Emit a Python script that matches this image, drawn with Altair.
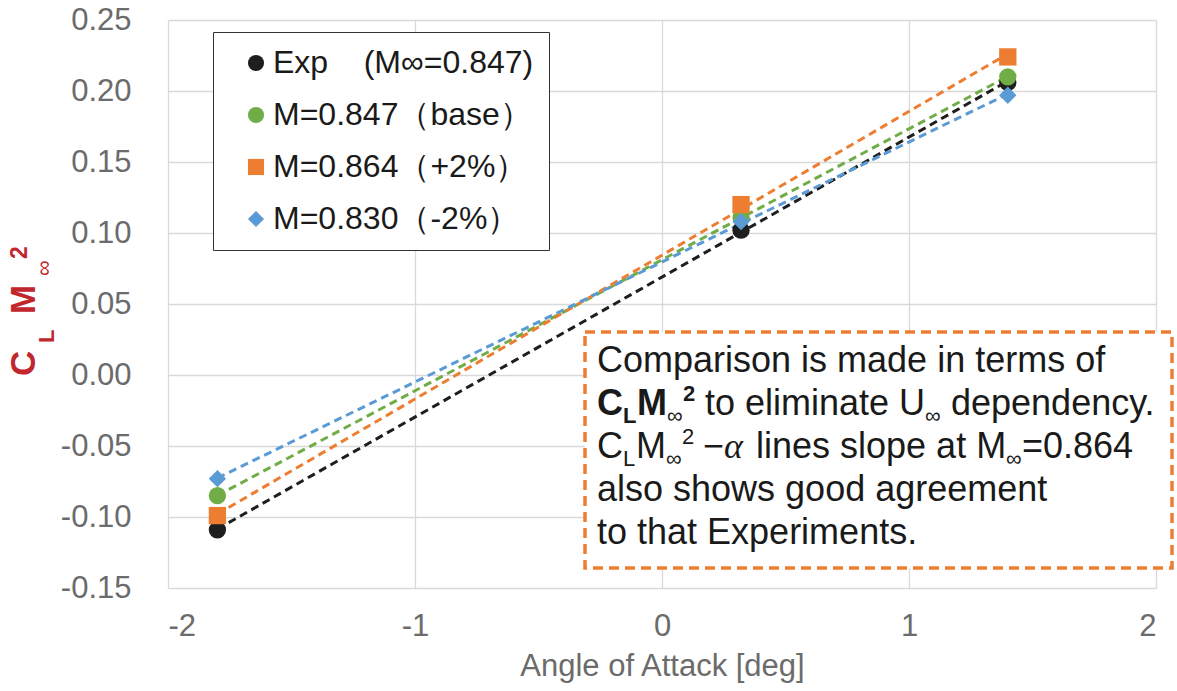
import altair as alt
import pandas as pd

FONT = "Liberation Sans"
INK = "#1a1a1a"
AXIS_GRAY = "#6b6b6b"

# Angle of attack [deg] at which each case was evaluated
aoa = [-1.8, 0.32, 1.4]

# C_L * M_inf^2 for each case
cl_exp = [-0.109, 0.102, 0.206]
cl_base = [-0.085, 0.111, 0.210]
cl_plus = [-0.099, 0.120, 0.224]
cl_minus = [-0.073, 0.108, 0.197]

series_names = [
    "Exp\u00a0\u00a0\u00a0\u00a0(M∞=0.847)",
    "M=0.847（base）",
    "M=0.864（+2%）",
    "M=0.830（-2%）",
]
series_colors = ["#1e1e1e", "#70ad47", "#ed7d31", "#5b9bd5"]
series_shapes = ["circle", "circle", "square", "diamond"]

x_ticks = [-2, -1, 0, 1, 2]
y_ticks = [-0.15, -0.10, -0.05, 0.00, 0.05, 0.10, 0.15, 0.20, 0.25]

rows = []
for name, values in zip(series_names, [cl_exp, cl_base, cl_plus, cl_minus]):
    for a, c in zip(aoa, values):
        rows.append({"series": name, "aoa": a, "cl": c})
df = pd.DataFrame(rows)

color_scale = alt.Scale(domain=series_names, range=series_colors)
shape_scale = alt.Scale(domain=series_names, range=series_shapes)

x_enc = alt.X(
    "aoa:Q",
    scale=alt.Scale(domain=[-2, 2], nice=False, zero=False),
    axis=alt.Axis(
        values=x_ticks,
        format="d",
        labelExpr="replace(datum.label, '−', '-')",
        title="Angle of Attack [deg]",
        labelPadding=23,
        titlePadding=10,
    ),
)
y_enc = alt.Y(
    "cl:Q",
    scale=alt.Scale(domain=[-0.15, 0.25], nice=False, zero=False),
    axis=alt.Axis(
        values=y_ticks,
        format=".2f",
        labelExpr="replace(datum.label, '−', '-')",
        title=None,
        labelPadding=37,
    ),
)

legend = alt.Legend(
    title=None,
    orient="none",
    legendX=45,
    legendY=12,
    fillColor="white",
    strokeColor="#333333",
    padding=15,
    symbolOffset=12,
    labelOffset=1,
    rowPadding=20,
    symbolSize=260,
    symbolStrokeWidth=0,
    labelFont=FONT,
    labelFontSize=32,
    labelColor=INK,
    labelLimit=500,
)

# Linear trend lines through each series
trends = (
    alt.Chart(df)
    .transform_regression("aoa", "cl", groupby=["series"], extent=[-1.8, 1.4])
    .mark_line(strokeDash=[8, 5], strokeWidth=3)
    .encode(
        x=x_enc,
        y=y_enc,
        color=alt.Color("series:N", scale=color_scale, legend=None),
    )
)

points = (
    alt.Chart(df)
    .mark_point(filled=True, size=300, opacity=1)
    .encode(
        x=x_enc,
        y=y_enc,
        color=alt.Color("series:N", scale=color_scale, legend=legend),
        shape=alt.Shape("series:N", scale=shape_scale, legend=legend),
    )
)

one = pd.DataFrame({"k": [0]})


def txt(text, x, y, size, bold=False, italic=False, font=FONT, color=INK, angle=0):
    props = dict(
        text=text,
        align="left",
        baseline="alphabetic",
        fontSize=size,
        font=font,
        color=color,
        fontWeight="bold" if bold else "normal",
    )
    if italic:
        props["fontStyle"] = "italic"
    if angle:
        props["angle"] = angle
    return alt.Chart(one).mark_text(**props).encode(x=alt.value(x), y=alt.value(y))


# Dashed note box
note_box = (
    alt.Chart(one)
    .mark_rect(fill="white", stroke="#ed7d31", strokeWidth=3.5, strokeDash=[10, 6])
    .encode(x=alt.value(417), x2=alt.value(1004), y=alt.value(312), y2=alt.value(548))
)

S = 36   # note font size
SS = 22  # sub/superscript size
L1, L2, L3, L4, L5 = 352, 395, 438, 481, 524
X0 = 429

note = [
    txt("Comparison is made in terms of", X0, L1, S),
    # bold C_L M_inf^2
    txt("C", X0, L2, S, bold=True),
    txt("L", 455, L2 + 8, SS, bold=True),
    txt("M", 469, L2, S, bold=True),
    txt("∞", 499, L2 + 8, SS),
    txt("2", 515, L2 - 14, SS, bold=True),
    txt("to eliminate U", 537, L2, S),
    txt("∞", 757, L2 + 8, SS),
    txt("dependency.", 783, L2, S),
    # C_L M_inf^2 - alpha
    txt("C", X0, L3, S),
    txt("L", 455, L3 + 8, SS),
    txt("M", 468, L3, S),
    txt("∞", 498, L3 + 8, SS),
    txt("2", 514, L3 - 14, SS),
    txt("−", 535, L3, S),
    txt("α", 556, L3, S, italic=True, font="Liberation Serif"),
    txt("lines slope at M", 588, L3, S),
    txt("∞", 838, L3 + 8, SS),
    txt("=0.864", 854, L3, S),
    txt("also shows good agreement", X0, L4, S),
    txt("to that Experiments.", X0, L5, S),
]

# Rotated y-axis title: C_L M_inf^2
RED = "#c1272d"
y_title = [
    txt("C", -133, 356, 35, bold=True, color=RED, angle=270),
    txt("L", -114, 323, 22, bold=True, color=RED, angle=270),
    txt("M", -133, 294, 35, bold=True, color=RED, angle=270),
    txt("∞", -117, 256, 22, color=RED, angle=270),
    txt("2", -141, 239, 23, bold=True, color=RED, angle=270),
]

chart = (
    alt.layer(trends, points, note_box, *note, *y_title)
    .resolve_legend(color="independent", shape="independent")
    .properties(
        width=988,
        height=568,
        autosize=alt.AutoSizeParams(type="none"),
        padding={"left": 168, "top": 20, "right": 21, "bottom": 103},
    )
    .configure_view(stroke=None)
    .configure_axis(
        grid=True,
        gridColor="#d9d9d9",
        gridWidth=1.3,
        domain=False,
        ticks=False,
        labelFont=FONT,
        labelFontSize=31,
        labelColor=AXIS_GRAY,
        titleFont=FONT,
        titleFontSize=31,
        titleColor=AXIS_GRAY,
        titleFontWeight="normal",
    )
)

chart.save("out.html", embed_options={"renderer": "svg", "actions": False})
